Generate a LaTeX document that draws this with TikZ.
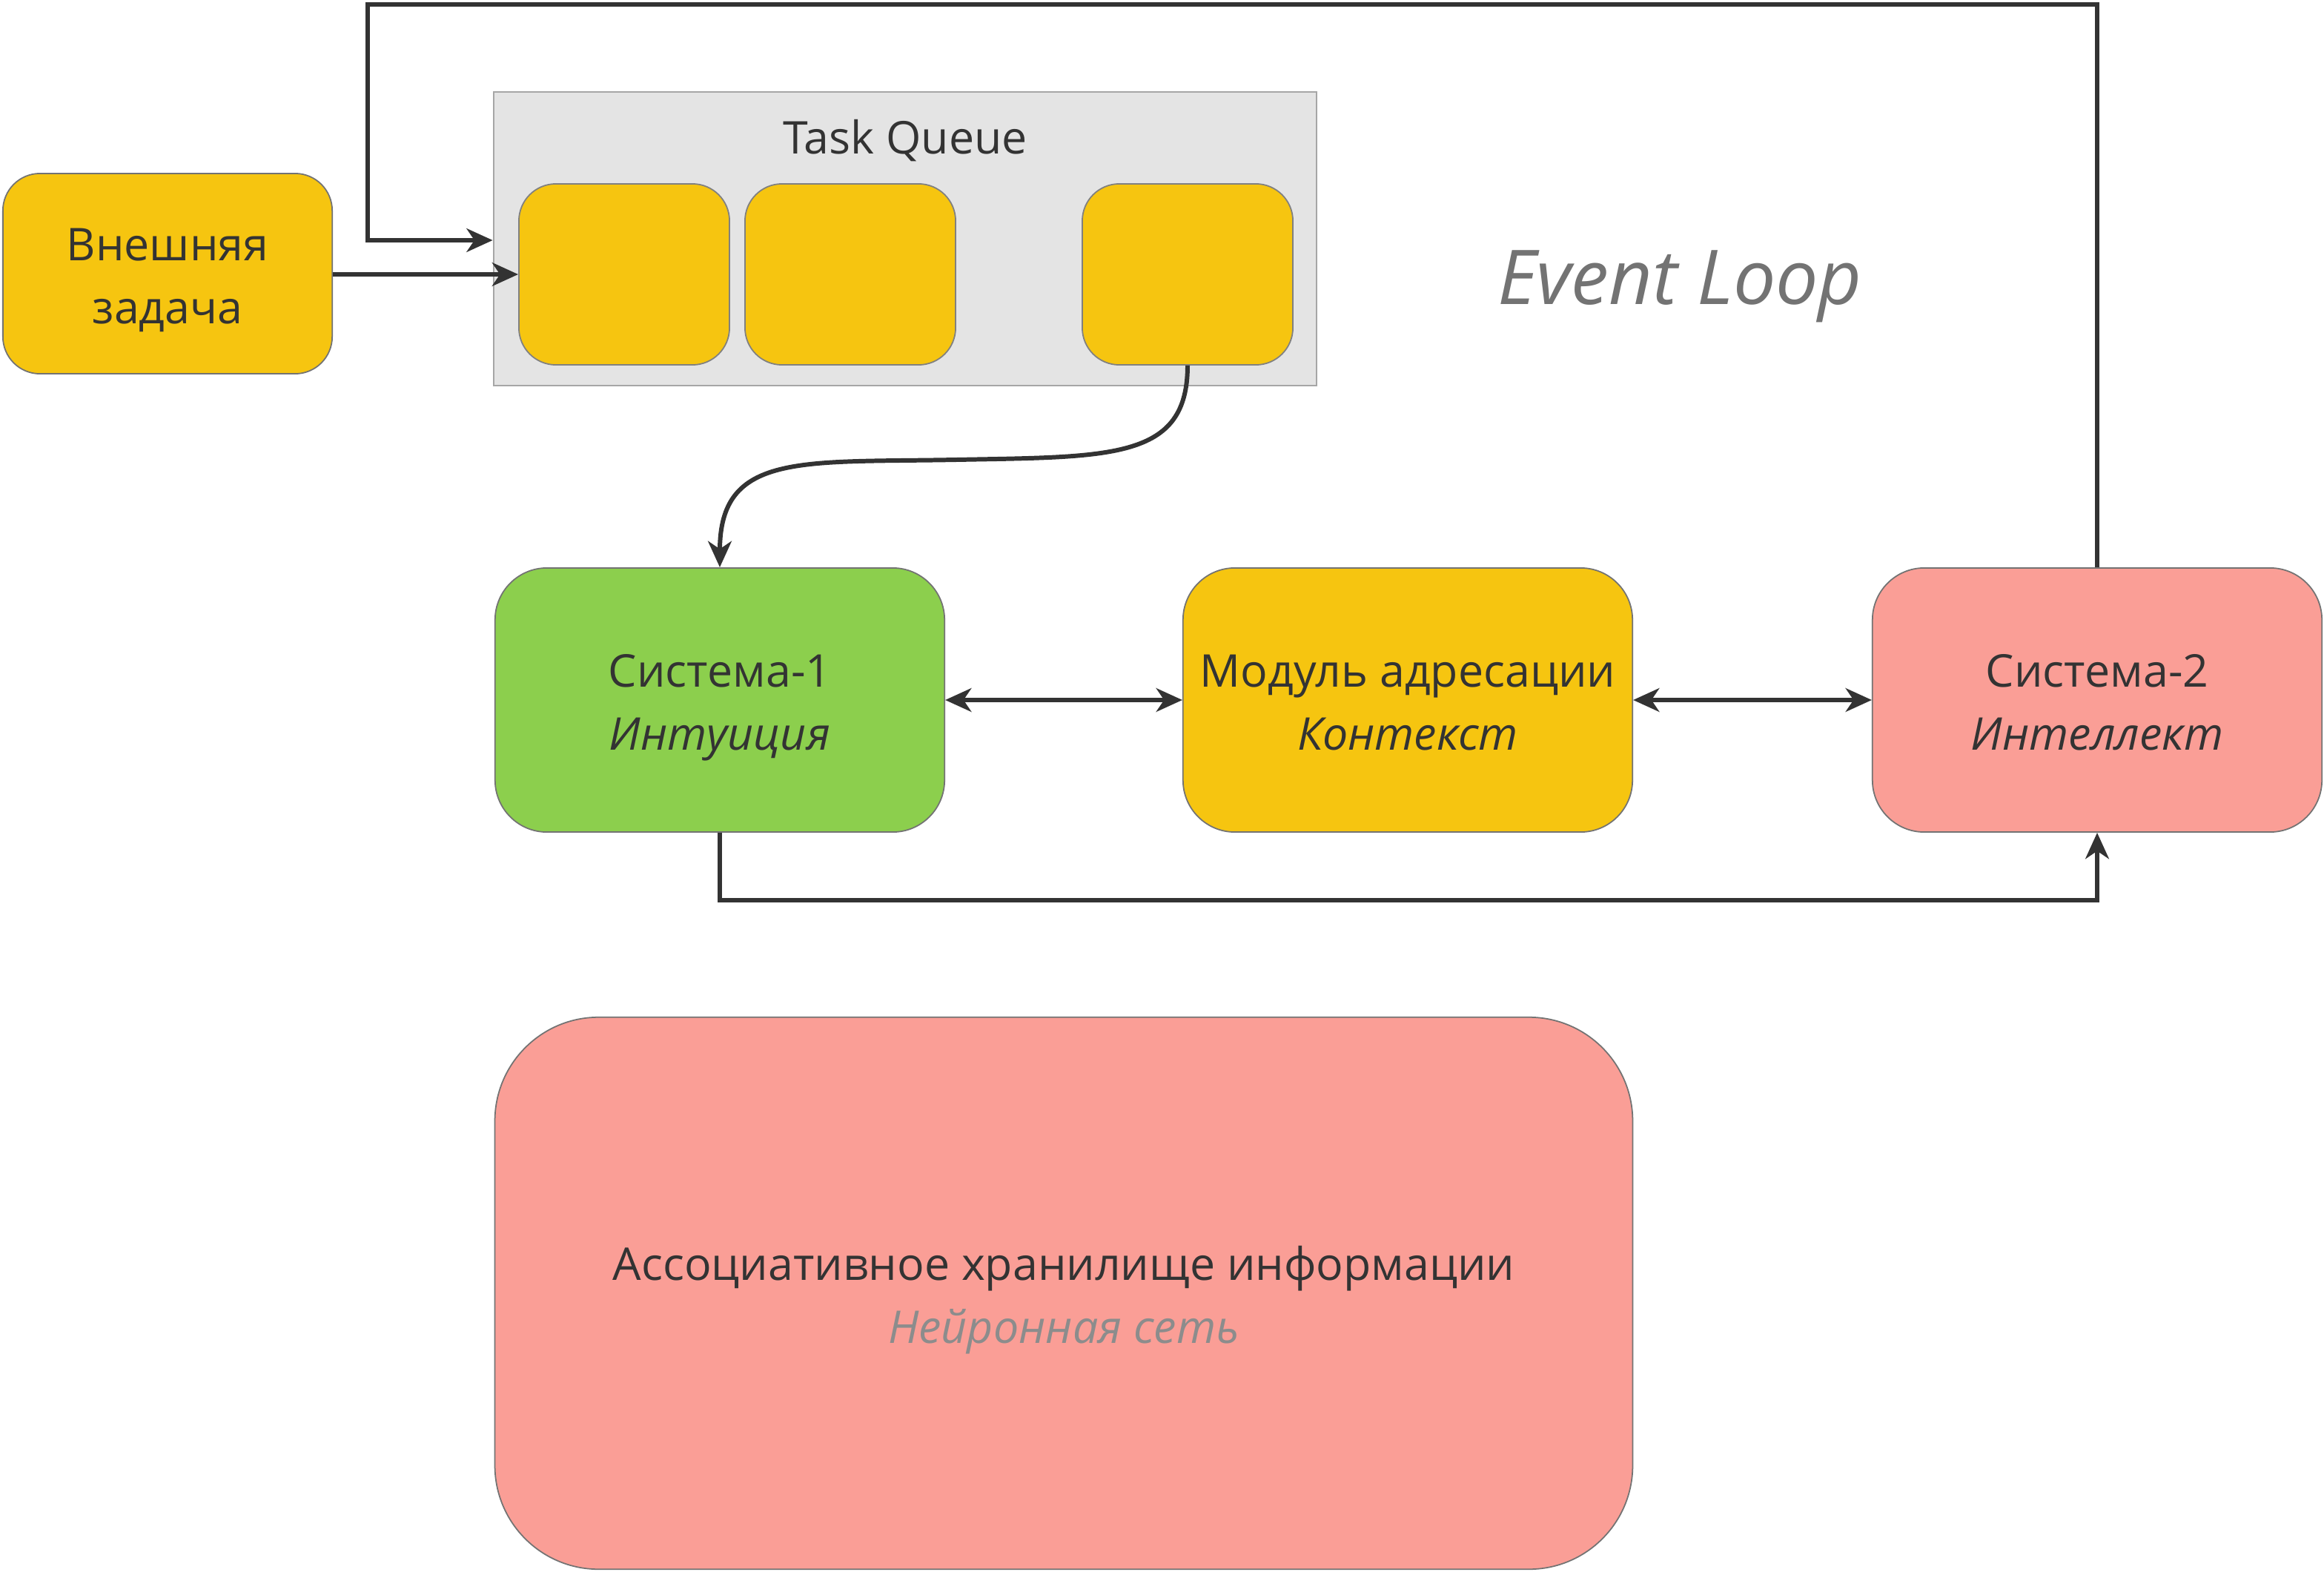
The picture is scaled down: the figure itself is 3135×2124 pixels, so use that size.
\documentclass[tikz,border=0pt]{standalone}
\usepackage{fontspec}
\setmainfont{Open Sans}
\usetikzlibrary{arrows.meta}
\definecolor{tyellow}{HTML}{F6C510}
\definecolor{tgreen}{HTML}{8CCF4D}
\definecolor{tpink}{HTML}{FA9E96}
\definecolor{tgray}{HTML}{E4E4E4}
\definecolor{tink}{HTML}{333333}
\pgfkeys{tikz/mybox/.style={draw=black!55,line width=0.5pt,rounded corners=0.7cm,minimum width=6.06cm,minimum height=3.56cm,align=center,text height=42.5pt,text depth=4.2pt,font=\fontsize{17.3}{24}\selectfont,text=tink}}
\pgfkeys{tikz/myslot/.style={draw=black!50,line width=0.5pt,fill=tyellow,rounded corners=0.5cm,minimum width=2.84cm,minimum height=2.44cm}}
\pgfkeys{tikz/mytip/.tip={Stealth[length=10pt,width=9pt,inset=3pt]}}
\pgfkeys{tikz/myarrow/.style={draw=tink,line width=1.7pt,-mytip}}
\newcommand*\myslots[1]{%
  \foreach \n/\x in {#1} {%
    \node [myslot] (\n) at (\x,370) {};%
  }%
}

\begin{document}
\begin{tikzpicture}[x=0.01cm,y=-0.01cm]
\useasboundingbox (0,0) rectangle (3135,2124);

% task queue
\node [draw=black!35,line width=0.6pt,fill=tgray,minimum width=11.10cm,minimum height=3.96cm] (tq) at (1221,322) {};
\node [font=\fontsize{17.3}{24}\selectfont,text=tink] (tqlabel) at (1221,190) {Task Queue};
\myslots{q1/842, q2/1147, q3/1602}

\node [mybox,fill=tyellow,minimum width=4.44cm,minimum height=2.70cm,rounded corners=0.5cm] (ext) at (226,369) {Внешняя\\задача};

\node [font=\itshape\fontsize{29}{34}\selectfont,text=black!55] (loop) at (2266,386) {Event Loop};

% systems
\node [mybox,fill=tgreen] (s1) at (971,944) {Система-1\\\textit{Интуиция}};
\node [mybox,fill=tyellow] (mod) at (1899,944) {Модуль адресации\\\textit{Контекст}};
\node [mybox,fill=tpink] (s2) at (2829,944) {Система-2\\\textit{Интеллект}};

\node [mybox,fill=tpink,minimum width=15.34cm,minimum height=7.44cm,rounded corners=1.4cm] (mem) at (1435,1744) {Ассоциативное хранилище информации\\\textcolor{black!45}{\textit{Нейронная сеть}}};

% connectors
\coordinate (c1) at (2829,6);
\coordinate (c2) at (496,6);
\coordinate (c3) at (496,324);
\coordinate (c4) at (971,1214);
\coordinate (c5) at (2829,1214);

\draw [myarrow] (s2.north) -- (c1) -- (c2) -- (c3) -- (tq.west |- c3);
\draw [myarrow] (ext.east |- 0,370) -- (q1.west);
\draw [myarrow] (q3.south) .. controls (1602,620) and (1500,616) .. (1290,620) .. controls (1080,624) and (971,610) .. (s1.north);
\draw [myarrow,mytip-mytip] (s1.east) -- (mod.west);
\draw [myarrow,mytip-mytip] (mod.east) -- (s2.west);
\draw [myarrow] (s1.south) -- (c4) -- (c5) -- (s2.south);

\end{tikzpicture}
\end{document}
